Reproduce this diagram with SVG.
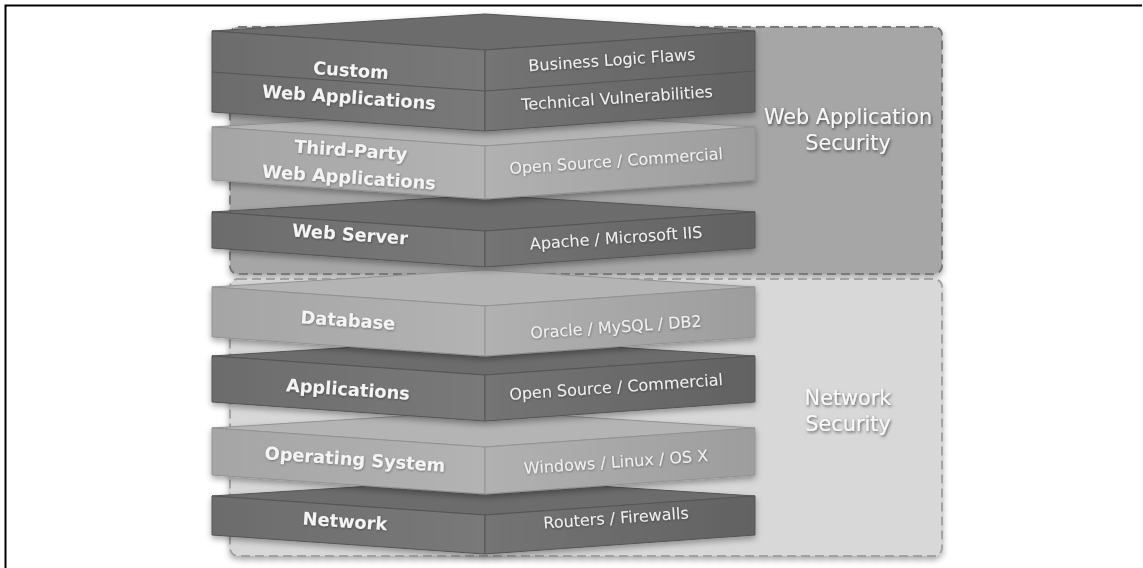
<svg xmlns="http://www.w3.org/2000/svg" width="1143" height="568" viewBox="0 0 1143 568">
<defs>
<style>
.lbl{font-family:"DejaVu Sans",Verdana,sans-serif;font-weight:bold;font-size:17.8px;fill:#f4f4f4;text-anchor:middle;dominant-baseline:central}
.sub{font-family:"DejaVu Sans",Verdana,sans-serif;font-size:16px;fill:#f0f0f0;text-anchor:middle;dominant-baseline:central}
.zone{font-family:"DejaVu Sans",Verdana,sans-serif;font-size:20.8px;fill:#f8f8f8;text-anchor:middle;dominant-baseline:central}
.dk .top{fill:#6c6c6c;stroke:#555;stroke-width:1}
.dk .lf{fill:url(#dkL);stroke:#555;stroke-width:1}
.dk .rf{fill:url(#dkR);stroke:#555;stroke-width:1}
.lt .top{fill:#b4b4b4;stroke:#939393;stroke-width:1}
.lt .lf{fill:url(#ltL);stroke:#939393;stroke-width:1}
.lt .rf{fill:url(#ltR);stroke:#939393;stroke-width:1}
.seam{stroke:#555;stroke-width:1.2;fill:none}
</style>
<linearGradient id="dkL" x1="0" y1="0" x2="1" y2="0"><stop offset="0" stop-color="#6c6c6c"/><stop offset="1" stop-color="#797979"/></linearGradient>
<linearGradient id="dkR" x1="0" y1="0" x2="1" y2="0"><stop offset="0" stop-color="#747474"/><stop offset="1" stop-color="#626262"/></linearGradient>
<linearGradient id="ltL" x1="0" y1="0" x2="1" y2="0"><stop offset="0" stop-color="#a5a5a5"/><stop offset="1" stop-color="#b3b3b3"/></linearGradient>
<linearGradient id="ltR" x1="0" y1="0" x2="1" y2="0"><stop offset="0" stop-color="#b1b1b1"/><stop offset="1" stop-color="#9d9d9d"/></linearGradient>
<filter id="sh" x="-10%" y="-20%" width="120%" height="150%"><feDropShadow dx="0" dy="3" stdDeviation="3" flood-color="#000" flood-opacity="0.35"/></filter>
<filter id="tsh" x="-10%" y="-40%" width="120%" height="180%"><feDropShadow dx="1" dy="1.5" stdDeviation="1.5" flood-color="#000" flood-opacity="0.6"/></filter>
<filter id="lsh" x="-10%" y="-40%" width="120%" height="180%"><feDropShadow dx="0.5" dy="1" stdDeviation="0.8" flood-color="#000" flood-opacity="0.35"/></filter>
</defs>
<rect width="1143" height="568" fill="#fff"/>
<path d="M5.5,568 V5.5 H1142" fill="none" stroke="#000" stroke-width="2"/>

<g id="zone-web">
<rect x="230" y="27" width="712" height="247" rx="8" fill="#a6a6a6" stroke="#7a7a7a" stroke-width="2" stroke-dasharray="9,5" filter="url(#sh)"/>
<text class="zone" x="848" y="117" filter="url(#tsh)">Web Application</text>
<text class="zone" x="848" y="143" filter="url(#tsh)">Security</text>
</g>
<g id="zone-net">
<rect x="230" y="279" width="712" height="277" rx="8" fill="#d8d8d8" stroke="#a2a2a2" stroke-width="2" stroke-dasharray="9,5" filter="url(#sh)"/>
<text class="zone" x="848" y="398" filter="url(#tsh)">Network</text>
<text class="zone" x="848" y="424" filter="url(#tsh)">Security</text>
</g>

<g id="network" class="dk" filter="url(#sh)">
<path class="top" d="M212,496 L485,479 L755,496 L485,515 Z"/>
<path class="lf" d="M212,496 L485,515 L485,554 L212,535 Z"/>
<path class="rf" d="M485,515 L755,496 L755,535 L485,554 Z"/>
<g filter="url(#lsh)">
<text class="lbl" x="345" y="521" transform="rotate(4 345 521)">Network</text>
<text class="sub" x="616" y="518" transform="rotate(-4 616 518)">Routers / Firewalls</text>
</g>
</g>
<g id="os" class="lt" filter="url(#sh)">
<path class="top" d="M212,428 L485,411 L755,428 L485,447 Z"/>
<path class="lf" d="M212,428 L485,447 L485,494 L212,475 Z"/>
<path class="rf" d="M485,447 L755,428 L755,475 L485,494 Z"/>
<g filter="url(#lsh)">
<text class="lbl" x="355" y="459" transform="rotate(4 355 459)">Operating System</text>
<text class="sub" x="616" y="462" transform="rotate(-4 616 462)">Windows / Linux / OS X</text>
</g>
</g>
<g id="applications" class="dk" filter="url(#sh)">
<path class="top" d="M212,356 L485,339 L755,356 L485,375 Z"/>
<path class="lf" d="M212,356 L485,375 L485,421 L212,402 Z"/>
<path class="rf" d="M485,375 L755,356 L755,402 L485,421 Z"/>
<g filter="url(#lsh)">
<text class="lbl" x="348" y="389" transform="rotate(4 348 389)">Applications</text>
<text class="sub" x="616" y="387" transform="rotate(-4 616 387)">Open Source / Commercial</text>
</g>
</g>
<g id="database" class="lt" filter="url(#sh)">
<path class="top" d="M212,287 L485,270 L755,287 L485,306 Z"/>
<path class="lf" d="M212,287 L485,306 L485,356 L212,337 Z"/>
<path class="rf" d="M485,306 L755,287 L755,337 L485,356 Z"/>
<g filter="url(#lsh)">
<text class="lbl" x="348" y="320" transform="rotate(4 348 320)">Database</text>
<text class="sub" x="616" y="327" transform="rotate(-4 616 327)">Oracle / MySQL / DB2</text>
</g>
</g>

<g id="web-server" class="dk" filter="url(#sh)">
<path class="top" d="M212,212 L485,195 L755,212 L485,231 Z"/>
<path class="lf" d="M212,212 L485,231 L485,267 L212,248 Z"/>
<path class="rf" d="M485,231 L755,212 L755,248 L485,267 Z"/>
<g filter="url(#lsh)">
<text class="lbl" x="350" y="234" transform="rotate(4 350 234)">Web Server</text>
<text class="sub" x="616" y="238" transform="rotate(-4 616 238)">Apache / Microsoft IIS</text>
</g>
</g>
<g id="third-party" class="lt" filter="url(#sh)">
<path class="top" d="M212,127 L485,110 L755,127 L485,146 Z"/>
<path class="lf" d="M212,127 L485,146 L485,199 L212,180 Z"/>
<path class="rf" d="M485,146 L755,127 L755,180 L485,199 Z"/>
<g filter="url(#lsh)">
<text class="lbl" x="350" y="150" transform="rotate(4 350 163)">Third-Party</text>
<text class="lbl" x="350" y="177" transform="rotate(4 350 163)">Web Applications</text>
<text class="sub" x="616" y="161" transform="rotate(-4 616 161)">Open Source / Commercial</text>
</g>
</g>
<g id="custom" class="dk" filter="url(#sh)">
<path class="top" d="M212,31 L485,14 L755,31 L485,50 Z"/>
<path class="lf" d="M212,31 L485,50 L485,131 L212,112 Z"/>
<path class="rf" d="M485,50 L755,31 L755,112 L485,131 Z"/>
<path class="seam" d="M212,72 L485,91 L755,71"/>
<g filter="url(#lsh)">
<text class="lbl" x="350" y="70" transform="rotate(4 350 84)">Custom</text>
<text class="lbl" x="350" y="97" transform="rotate(4 350 84)">Web Applications</text>
<text class="sub" x="612" y="60" transform="rotate(-4 612 60)">Business Logic Flaws</text>
<text class="sub" x="617" y="98" transform="rotate(-4 617 98)">Technical Vulnerabilities</text>
</g>
</g>
<g id="connectors"/>
</svg>
